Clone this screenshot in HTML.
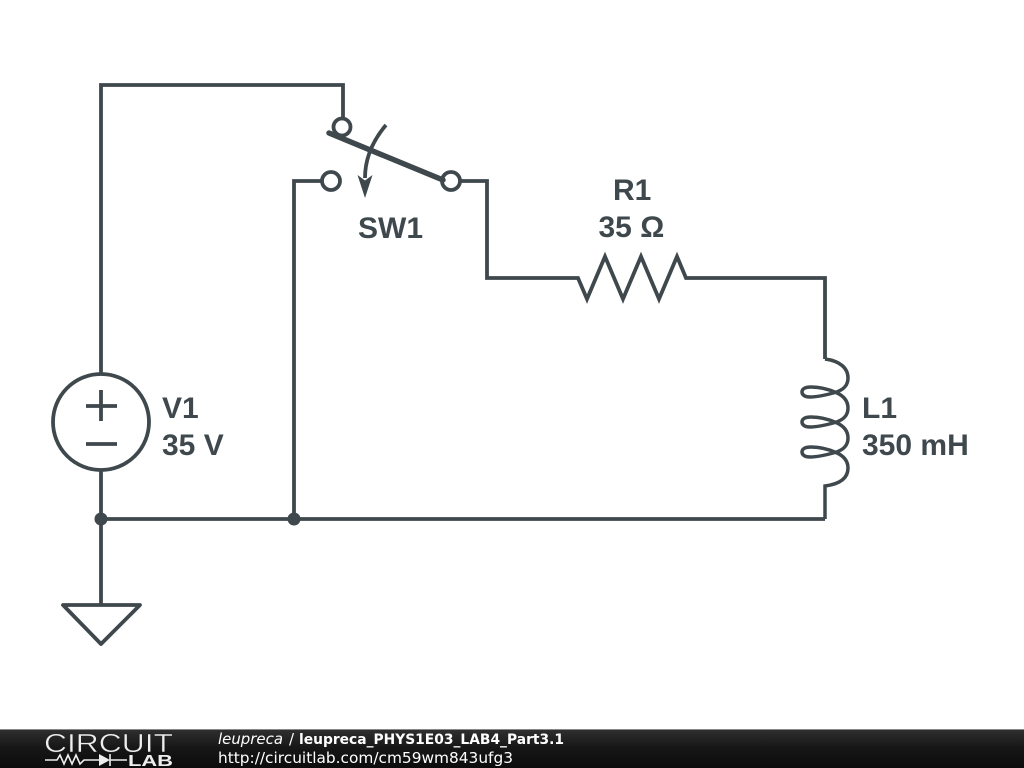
<!DOCTYPE html>
<html><head><meta charset="utf-8"><style>
html,body{margin:0;padding:0;background:#fff}
svg{display:block}
</style></head><body>
<svg width="1024" height="768" viewBox="0 0 1024 768" xmlns="http://www.w3.org/2000/svg">
<defs><linearGradient id="g" x1="0" y1="0" x2="0" y2="1"><stop offset="0" stop-color="#303030"/><stop offset="0.5" stop-color="#161616"/><stop offset="1" stop-color="#0c0c0c"/></linearGradient></defs>
<rect width="1024" height="768" fill="#fff"/>
<g fill="none" stroke="#3f484d" stroke-width="3.800" stroke-linejoin="miter">
<path d="M101,374V85H343V118"/>
<path d="M322,181H294V519"/>
<path d="M460,181H487V278H578L587,299L605,256.500L623,299L641,256.500L659,299L677,256.500L686,278H825V359"/>
<path stroke-width="3.500" d="M825,359C840,361 848,368 848,378C848,386 843,390 835,392.500C826,395 816,397 810,397C805,397 802,395 802,392C802,389 805,387 811,387C819,387 828,389 836,392.500C844,396 848,401 848,408C848,416 843,420 835,422.500C826,425 816,427 810,427C805,427 802,425 802,422C802,419 805,417 811,417C819,417 828,419 836,422.500C844,426 848,431 848,438C848,446 843,450 835,452.500C826,455 816,457 810,457C805,457 802,455 802,452C802,449 805,447 811,447C819,447 828,449 836,452.500C844,456 848,461 848,468C848,478 840,484 825,486V519"/>
<path d="M101,470V605M101,519H825"/>
<path d="M63,605H140L101,644Z" stroke-linejoin="round"/>
<circle cx="101" cy="422" r="48"/>
<path d="M86,406H117M101,390V421M86,444H117"/>
<circle cx="342" cy="127" r="8.500"/>
<circle cx="331" cy="181" r="9"/>
<circle cx="451" cy="181" r="9"/>
<path d="M329,133L443,180" stroke-width="5.500" stroke-linecap="round"/>
<path d="M386,125C375,138 365,155 365,178" stroke-width="3.800"/>
</g>
<path d="M365,198L357.500,175L365,180.500L372.500,175Z" fill="#3f484d"/>
<circle cx="101" cy="519" r="6.500" fill="#3f484d"/>
<circle cx="294" cy="519" r="6.500" fill="#3f484d"/>
<g font-family="'Liberation Sans',sans-serif" font-weight="700" font-size="30" fill="#3f484d">
<text x="358" y="238">SW1</text>
<text x="613" y="200">R1</text>
<text x="598.500" y="237">35 Ω</text>
<text x="162" y="418">V1</text>
<text x="162" y="455">35 V</text>
<text x="862" y="418">L1</text>
<text x="862" y="455">350 mH</text>
</g>
<rect x="0" y="729" width="1024" height="39" fill="url(#g)"/>
<rect x="0" y="729" width="1024" height="1" fill="#888"/>
<text x="44" y="752" font-family="'Liberation Sans',sans-serif" font-size="26" fill="#eee" textLength="129" lengthAdjust="spacingAndGlyphs" stroke="#1e1e1e" stroke-width="0.500">CIRCUIT</text>
<g fill="none" stroke="#eee" stroke-width="1.600">
<path d="M45,760H57L60,755L64,764L68,755L72,764L76,755L80,764L84,760H99M110,760H127M110,754V766"/>
</g>
<path d="M99,754L110,760L99,766Z" fill="#eee"/>
<text x="128" y="766" font-family="'Liberation Sans',sans-serif" font-weight="700" font-size="16" fill="#eee" textLength="45" lengthAdjust="spacingAndGlyphs">LAB</text>
<g font-family="'DejaVu Sans',sans-serif" fill="#fff">
<text x="218" y="744" font-size="15" font-style="oblique" textLength="65" lengthAdjust="spacingAndGlyphs">leupreca</text>
<text x="289" y="744" font-size="15">/</text>
<text x="299" y="744" font-size="14.500" font-weight="700" textLength="265" lengthAdjust="spacingAndGlyphs">leupreca_PHYS1E03_LAB4_Part3.1</text>
<text x="218" y="763" font-size="15.300" textLength="295" lengthAdjust="spacingAndGlyphs">http://circuitlab.com/cm59wm843ufg3</text>
</g>
</svg>
</body></html>
